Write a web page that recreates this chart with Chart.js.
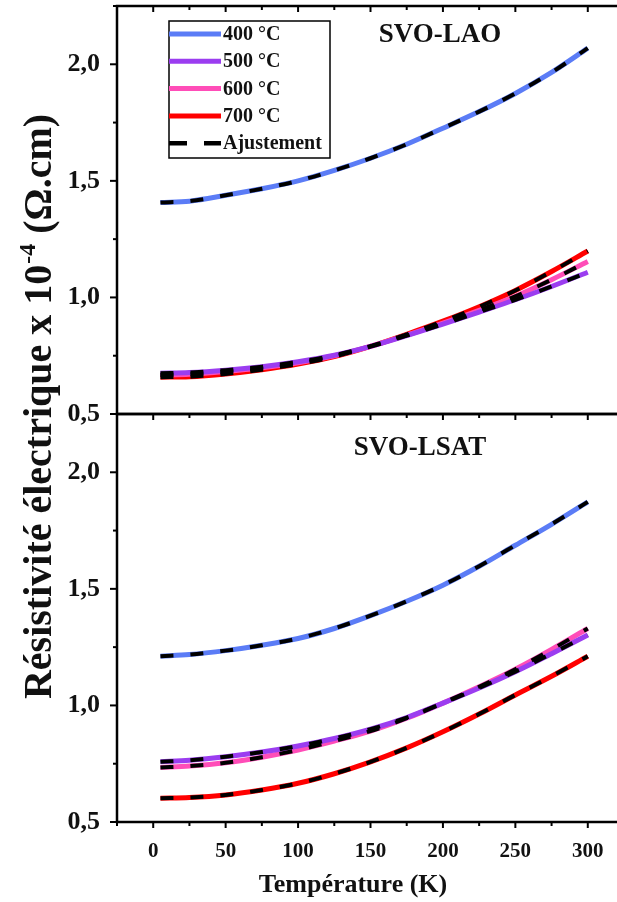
<!DOCTYPE html>
<html>
<head>
<meta charset="utf-8">
<script src="https://cdn.jsdelivr.net/npm/chart.js@4.4.1/dist/chart.umd.min.js"></script>
<style>
  html, body { margin: 0; padding: 0; background: #fff; overflow: hidden; }
  #wrap { width: 626px; height: 902px; }
</style>
</head>
<body>
<div id="wrap"><canvas id="myChart"></canvas></div>
<script>
// temperatures (K) where the curves were read
const temperatures = [5, 25, 50, 75, 100, 125, 150, 175, 200, 225, 250, 275, 300];

// SVO-LAO (top panel), resistivity x 1e-4 Ohm.cm
const lao400 = [1.407, 1.413, 1.438, 1.466, 1.500, 1.545, 1.597, 1.657, 1.726, 1.797, 1.875, 1.965, 2.069];
const lao500 = [0.675, 0.678, 0.688, 0.703, 0.724, 0.752, 0.790, 0.836, 0.885, 0.937, 0.990, 1.047, 1.108];
const lao600 = [0.667, 0.670, 0.682, 0.698, 0.720, 0.750, 0.790, 0.838, 0.890, 0.945, 1.005, 1.076, 1.154];
const lao700 = [0.658, 0.660, 0.672, 0.690, 0.714, 0.746, 0.790, 0.842, 0.898, 0.960, 1.030, 1.111, 1.199];

// SVO-LSAT (bottom panel)
const lsat400 = [1.211, 1.218, 1.235, 1.258, 1.287, 1.330, 1.385, 1.447, 1.516, 1.597, 1.687, 1.777, 1.873];
const lsat500 = [0.758, 0.765, 0.780, 0.800, 0.826, 0.858, 0.898, 0.948, 1.010, 1.075, 1.145, 1.222, 1.302];
const lsat600 = [0.734, 0.740, 0.754, 0.778, 0.809, 0.847, 0.890, 0.945, 1.010, 1.080, 1.155, 1.240, 1.330];
const lsat700 = [0.602, 0.605, 0.616, 0.637, 0.666, 0.707, 0.758, 0.818, 0.887, 0.963, 1.045, 1.125, 1.211];

const seriesLabels = ["400 °C", "500 °C", "600 °C", "700 °C"];
const fitLabel = "Ajustement";
const panelTitles = ["SVO-LAO", "SVO-LSAT"];
const xTitle = "Température (K)";
const yTitle = ["Résistivité électrique x 10", "-4", " (Ω.cm)"];

const COLORS = ["#5b7cf6", "#9b3df0", "#ff4db8", "#ff0000"];
const FONT = "'Liberation Serif', 'DejaVu Serif', serif";

function toPoints(values) {
  return temperatures.map((t, i) => ({ x: t, y: values[i] }));
}

function buildDatasets(groups, axisId) {
  // measured curves (order 1) under the dashed fits (order 0)
  let sets = groups.map((values, i) => ({
    label: seriesLabels[i],
    data: toPoints(values),
    yAxisID: axisId,
    order: 1,
    borderColor: COLORS[i],
    borderWidth: 5,
    pointRadius: 0,
    cubicInterpolationMode: "monotone",
  }));
  groups.forEach((values) => {
    sets.push({
      label: fitLabel,
      data: toPoints(values),
      yAxisID: axisId,
      order: 0,
      borderColor: "#000",
      borderWidth: 4,
      borderDash: [13, 17],
      pointRadius: 0,
      cubicInterpolationMode: "monotone",
    });
  });
  return sets;
}

const datasets = buildDatasets([lao400, lao500, lao600, lao700], "yTop")
  .concat(buildDatasets([lsat400, lsat500, lsat600, lsat700], "yBot"));

function noPadding(s) {
  s.paddingTop = 0; s.paddingBottom = 0; s.paddingLeft = 0; s.paddingRight = 0;
}

function yScale() {
  return {
    type: "linear",
    stack: "panels",
    stackWeight: 1,
    min: 0.5,
    max: 2.25,
    grid: { display: false },
    border: { display: false },
    ticks: {
      stepSize: 0.25,
      autoSkip: false,
      padding: 9,
      color: "#111",
      font: { family: FONT, size: 26, weight: "bold" },
      callback: (v) => (Math.abs(v * 2 - Math.round(v * 2)) < 1e-6 && v <= 2.0) ? v.toFixed(1).replace(".", ",") : "",
    },
    afterFit: (s) => { s.width = 117; noPadding(s); },
  };
}

// frames, tick marks, titles and legend
const decorations = {
  id: "decorations",
  afterDraw(chart) {
    const { ctx, chartArea: a, scales } = chart;
    const x = scales.x;
    const line = (x1, y1, x2, y2) => { ctx.beginPath(); ctx.moveTo(x1, y1); ctx.lineTo(x2, y2); ctx.stroke(); };
    ctx.save();
    ctx.strokeStyle = "#000";
    ["yTop", "yBot"].forEach((id, p) => {
      const y = scales[id];
      ctx.lineWidth = 2.5;
      ctx.strokeRect(a.left, y.top, a.right - a.left, y.bottom - y.top);
      ctx.lineWidth = 2;
      y.ticks.forEach((t) => {
        const py = y.getPixelForValue(t.value);
        const major = Math.abs(t.value * 2 - Math.round(t.value * 2)) < 1e-6;
        const len = major ? 7 : 4;
        line(a.left - len, py, a.left, py);
        line(a.right - len, py, a.right, py);
      });
      x.ticks.forEach((t) => {
        const px = x.getPixelForValue(t.value);
        const len = t.value % 50 === 0 ? 6 : 4;
        line(px, y.top, px, y.top + len);
      });
      // panel title
      ctx.fillStyle = "#111";
      ctx.font = "bold 27px " + FONT;
      ctx.textAlign = "center";
      ctx.textBaseline = "middle";
      const tx = p === 0 ? 440 : 420;
      ctx.fillText(panelTitles[p], tx, y.top + (p === 0 ? 29 : 34));
    });
    ctx.lineWidth = 2;
    x.ticks.forEach((t) => {
      const px = x.getPixelForValue(t.value);
      const len = t.value % 50 === 0 ? 6 : 4;
      line(px, a.bottom, px, a.bottom + len);
    });

    // x axis title
    ctx.fillStyle = "#111";
    ctx.font = "bold 26px " + FONT;
    ctx.textAlign = "center";
    ctx.textBaseline = "middle";
    ctx.fillText(xTitle, 353, 885);

    // legend
    const bx = a.left + 52, by = a.top + 15, bw = 161, bh = 137;
    ctx.lineWidth = 1.5;
    ctx.strokeRect(bx, by, bw, bh);
    const entries = seriesLabels.map((l, i) => ({ text: l, color: COLORS[i], dash: [] }))
      .concat([{ text: fitLabel, color: "#000", dash: [18, 17] }]);
    ctx.font = "bold 20px " + FONT;
    ctx.textAlign = "left";
    entries.forEach((e, i) => {
      const ey = by + 13 + i * 27.3;
      ctx.strokeStyle = e.color;
      ctx.lineWidth = e.dash.length ? 4.5 : 5;
      ctx.setLineDash(e.dash);
      line(bx, ey, bx + 52, ey);
      ctx.setLineDash([]);
      ctx.fillStyle = "#111";
      ctx.fillText(e.text, bx + 54, ey + 1);
    });

    // y axis title, rotated
    ctx.translate(38, 407);
    ctx.rotate(-Math.PI / 2);
    const big = "bold 40px " + FONT, small = "bold 24px " + FONT;
    ctx.font = big; const w1 = ctx.measureText(yTitle[0]).width; const w3 = ctx.measureText(yTitle[2]).width;
    ctx.font = small; const w2 = ctx.measureText(yTitle[1]).width;
    const sx = -(w1 + w2 + w3) / 2;
    ctx.fillStyle = "#111";
    ctx.textBaseline = "alphabetic";
    ctx.font = big; ctx.fillText(yTitle[0], sx, 13);
    ctx.font = small; ctx.fillText(yTitle[1], sx + w1 + 1, -3);
    ctx.font = big; ctx.fillText(yTitle[2], sx + w1 + w2 + 1, 13);
    ctx.restore();
  },
};

function generateGraph() {
  const ctx = document.getElementById("myChart").getContext("2d");
  return new Chart(ctx, {
    type: "line",
    data: { datasets: datasets },
    options: {
      responsive: true,
      maintainAspectRatio: false,
      animation: false,
      layout: { padding: { top: 6, right: 2, left: 0, bottom: 0 } },
      plugins: { legend: { display: false }, tooltip: { enabled: false } },
      scales: {
        x: {
          type: "linear",
          min: -25,
          max: 325,
          grid: { display: false },
          border: { display: false },
          ticks: {
            stepSize: 25,
            autoSkip: false,
            maxRotation: 0,
            padding: 9,
            color: "#111",
            font: { family: FONT, size: 21, weight: "bold" },
            callback: (v) => (v % 50 === 0 && v >= 0 && v <= 300) ? v : "",
          },
          afterFit: (s) => { s.height = 80; noPadding(s); },
        },
        yBot: yScale(),
        yTop: yScale(),
      },
    },
    plugins: [decorations],
  });
}

generateGraph();
</script>
</body>
</html>
